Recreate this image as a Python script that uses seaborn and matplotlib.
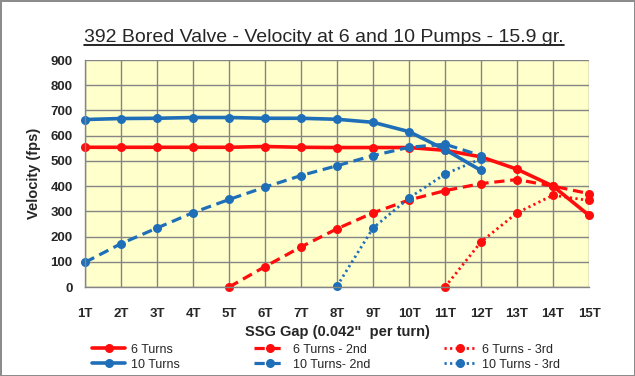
import numpy as np
import pandas as pd
import matplotlib
matplotlib.use("Agg")
import matplotlib.pyplot as plt
from matplotlib.lines import Line2D
import seaborn as sns

nan = np.nan

# Data
gap_labels = ['1T', '2T', '3T', '4T', '5T', '6T', '7T', '8T',
              '9T', '10T', '11T', '12T', '13T', '14T', '15T']
six_turns = [554, 554, 554, 554, 554, 557, 554, 553, 553, 553, 542, 516, 467, 400, 284]
ten_turns = [664, 668, 669, 672, 672, 669, 669, 665, 653, 616, 545, 462, nan, nan, nan]
six_2nd = [nan, nan, nan, nan, 0, 81, 159, 231, 294, 345, 382, 410, 426, 400, 370]
ten_2nd = [98, 172, 234, 295, 347, 396, 442, 481, 521, 554, 566, 521, nan, nan, nan]
six_3rd = [nan, nan, nan, nan, nan, nan, nan, nan, nan, nan, 0, 179, 294, 364, 343]
ten_3rd = [nan, nan, nan, nan, nan, nan, nan, 4, 234, 353, 448, 508, nan, nan, nan]

red = '#FF0D0D'
blue = '#1F6FB8'

# label, values, colour, linestyle, linewidth  (order = legend column-wise)
series = [
    ('6 Turns', six_turns, red, '-', 2.6),
    ('10 Turns', ten_turns, blue, '-', 2.6),
    ('6 Turns - 2nd', six_2nd, red, (0, (3.2, 1.8)), 2.3),
    ('10 Turns- 2nd', ten_2nd, blue, (0, (3.2, 1.8)), 2.3),
    ('6 Turns - 3rd', six_3rd, red, (0, (0.8, 1.2)), 2.0),
    ('10 Turns - 3rd', ten_3rd, blue, (0, (0.8, 1.2)), 2.0),
]

sns.set_style('white')
plt.rcParams['font.family'] = ['Liberation Sans', 'DejaVu Sans']

fig = plt.figure(figsize=(6.35, 3.76), dpi=100, facecolor='white',
                 edgecolor='#8c8c8c', linewidth=2)
ax = fig.add_axes([0.134, 0.2367, 0.7936, 0.6037])
ax.set_facecolor('#FFFFCC')

x = np.arange(1, len(gap_labels) + 1)
handles = []
for label, vals, col, ls, lw in series:
    df = pd.DataFrame({'gap': x, 'velocity': vals}).dropna()
    sns.lineplot(data=df, x='gap', y='velocity', ax=ax, color=col,
                 linestyle=ls, linewidth=lw, marker='o', markersize=6.5,
                 markeredgewidth=0, label=None, legend=False, clip_on=False)
    handles.append(Line2D([0], [0], color=col, linestyle=ls, linewidth=lw,
                          marker='o', markersize=6.5, markeredgewidth=0,
                          label=label))

ax.set_xlim(1, 15)
ax.set_ylim(0, 900)
ax.set_xticks(x)
ax.set_xticklabels(gap_labels)
ax.set_yticks(np.arange(0, 901, 100))
ax.grid(True, color='#858585', linewidth=1.0)
ax.set_axisbelow(True)
for s in ['top', 'right']:
    ax.spines[s].set_visible(False)
for s in ['left', 'bottom']:
    ax.spines[s].set_color('#858585')
    ax.spines[s].set_linewidth(1.0)
ax.tick_params(axis='both', direction='out', length=4, width=1,
               color='#858585', labelsize=9.5)
ax.tick_params(axis='x', pad=11)
ax.tick_params(axis='y', pad=5)
for t in ax.get_xticklabels() + ax.get_yticklabels():
    t.set_fontweight('bold')

ax.set_xlabel('SSG Gap (0.042"  per turn)', fontsize=10.5, fontweight='bold', labelpad=4)
ax.set_ylabel('Velocity (fps)', fontsize=10.5, fontweight='bold', labelpad=7)

title = fig.text(0.51, 0.899, '392 Bored Valve - Velocity at 6 and 10 Pumps - 15.9 gr.',
                 ha='center', va='center', fontsize=14)

fig.legend(handles=handles, loc='center', bbox_to_anchor=(0.514, 0.05),
           ncol=3, frameon=False, fontsize=9, handlelength=2.6,
           handletextpad=0.5, columnspacing=5.9, labelspacing=0.25)

# underline the title
fig.canvas.draw()
bb = title.get_window_extent(renderer=fig.canvas.get_renderer())
inv = fig.transFigure.inverted()
(x0, y0), (x1, _) = inv.transform([(bb.x0, bb.y0 + 1), (bb.x1, bb.y0)])
fig.add_artist(Line2D([x0, x1], [y0, y0], transform=fig.transFigure,
                      color='black', linewidth=1.2))

fig.savefig('out.png', dpi=100, facecolor=fig.get_facecolor(),
            edgecolor=fig.get_edgecolor())
